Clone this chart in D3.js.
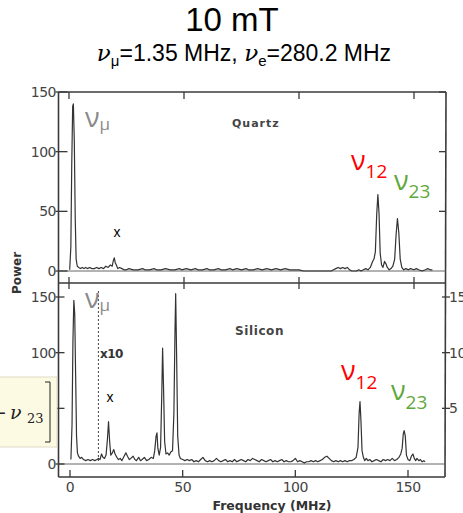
<!DOCTYPE html>
<html><head><meta charset="utf-8">
<script src="https://cdn.jsdelivr.net/npm/d3@7"></script>
<style>
html,body{margin:0;padding:0;background:#fff;}
svg{display:block;}
</style></head>
<body>
<svg id="chart" width="463" height="513"></svg>
<script>
// ---------------- DATA ----------------
const title = "10 mT";
const xTicks = [0, 50, 100, 150];
const yTicksLeft = [0, 50, 100, 150];
const yTicksRight = [5, 10, 15];
const panelNames = ["Quartz", "Silicon"];

const quartzFreq = [0.3,0.8,1.2,1.6,1.9,2.3,2.7,3.1,3.6,4.2,5,5.8,6.5,7.3,8,9,10,11,12,13,14,15,16,17,18,18.8,19.3,19.7,20.1,20.6,21.2,22,23,24,25,26,28,30,32,33,35,37,38,40,42,44,46,48,49,51,53,55,56,58,60,61,63,65,66,68,70,71,73,75,77,78,80,82,84,86,88,90,92,94,96,98,100,102,104,106,108,110,112,114,115,116,117,118,119,120,121,122,123,125,126,127,128,129,130,131,132,132.6,133.2,133.8,134.3,134.8,135.3,135.9,136.5,137.2,137.8,138.4,139.2,140,140.8,141.6,142.2,142.8,143.4,144,144.7,145.5,146.5,147.5,148.5,150,151,152,153.5,155,156,157,158];
const quartzPower = [1,20,90,138,140,110,45,10,4,3,2,3,2,3,2,3,2,2,3,2,3,2,4,3,5,4,9,11,7,5,2,3,2,1,1,2,1,1,2,1,1,2,1,1,2,1,1,2,1,2,1,2,1,1,2,1,1,2,1,1,2,1,2,1,2,1,1,2,1,2,1,2,1,2,1,1,1,0,0,0,0,0,0,0,1,2,3,2,3,2,3,1,0,0,1,0,1,2,1,3,8,10,16,48,64,48,15,5,3,8,6,3,1,2,4,10,30,44,32,10,3,1,2,1,2,1,2,1,0,1,2,1,1];

const siliconFreq = [0.4,0.9,1.3,1.7,2.1,2.5,2.9,3.3,3.8,4.5,5.2,6,7,8,9,10,11,12,12.6,13.3,14,14.6,15.3,16,16.6,17.1,17.6,18.1,18.8,19.4,20,20.8,21.5,22.3,23,24,24.8,25.5,26.3,27,28,28.8,29.5,30.5,31.3,32,33,34,35,36,37,37.6,38.2,38.6,39,39.6,40.2,40.7,41.1,41.5,42,42.6,43.3,44,44.8,45.5,46.1,46.6,46.9,47.3,47.8,48.4,49,50,51,52,53,54,55,56,57,58,59,60,61,62,63,64,65,66,67,68,69,70,71,72,73,74,75,76,77,78,79,80,81,82,83,84,85,86,87,88,89,90,91,92,93,94,95,96,97,98,99,100,101,102,103,104,105,106,107,108,109,110,111,112,113,114,115,116,117,118,119,120,121,122,123,124,125,126,127,127.8,128.3,128.7,129.1,129.6,130.2,130.8,131.5,132.2,133,134,135,136,137,138,139,140,141,142,143,144,145,146,146.8,147.4,147.9,148.3,148.8,149.3,150,150.8,151.5,152.2,152.8,153.4,154,154.8,155.5,156.3,157,157.6];
const siliconPower = [4,35,110,147,135,80,25,10,7,5,6,4,3,4,3,4,3,4,5,4,9,6,5,8,22,38,20,8,10,13,9,6,4,5,3,7,10,7,4,5,7,4,3,6,3,4,6,3,4,6,5,12,25,28,14,8,15,60,104,70,20,9,10,8,11,12,45,120,153,100,25,8,5,4,3,4,3,4,2,3,2,4,6,3,2,3,2,3,5,3,2,3,4,2,3,2,4,2,3,4,3,2,4,3,5,4,3,2,4,3,2,3,4,2,3,2,3,4,2,3,2,2,3,5,2,3,2,1,2,2,3,2,3,2,3,4,6,7,5,3,2,3,2,3,2,3,2,3,3,4,6,15,45,56,40,12,6,3,5,3,4,2,3,4,3,2,4,3,4,3,5,3,4,6,9,14,27,30,25,8,4,3,7,9,5,3,5,3,4,2,3,2];

const x10Freq = 12.6;

// ---------------- LAYOUT ----------------
const svg = d3.select("#chart");
const ink = "#3a3a3a";
const lblFont = "'DejaVu Sans', sans-serif";

const xTop = d3.scaleLinear().domain([0,150]).range([69,414]);
const xBot = d3.scaleLinear().domain([0,150]).range([70,408]);
const yTop = d3.scaleLinear().domain([0,150]).range([271,92]);
const yBot = d3.scaleLinear().domain([0,150]).range([464,297]);
const yBotR = d3.scaleLinear().domain([0,15]).range([464,297]);

// Title
svg.append("text").attr("x",232).attr("y",31).attr("text-anchor","middle")
  .attr("font-family","'Liberation Sans', Arial, sans-serif").attr("font-size",33).attr("fill","#000").text(title);
const sub = svg.append("text").attr("x",244).attr("y",61).attr("text-anchor","middle")
  .attr("font-family","'Liberation Sans', Arial, sans-serif").attr("font-size",23).attr("fill","#000");
sub.append("tspan").attr("font-family","'DejaVu Serif', serif").attr("font-style","italic").text("ν");
sub.append("tspan").attr("font-size",15).attr("dy",5).text("μ");
sub.append("tspan").attr("dy",-5).text("=1.35 MHz, ");
sub.append("tspan").attr("font-family","'DejaVu Serif', serif").attr("font-style","italic").text("ν");
sub.append("tspan").attr("font-size",15).attr("dy",5).text("e");
sub.append("tspan").attr("dy",-5).text("=280.2 MHz");

// Frame
const fL = 58.5, fRt = 446, fRb = 445, fT = 92, fDiv = 283, fB = 477;
const frame = svg.append("g").attr("stroke",ink).attr("stroke-width",1.6).attr("fill","none");
frame.append("line").attr("x1",fL).attr("x2",fRt).attr("y1",fT).attr("y2",fT);
frame.append("line").attr("x1",fL).attr("x2",fRb).attr("y1",fDiv).attr("y2",fDiv);
frame.append("line").attr("x1",fL).attr("x2",fRb).attr("y1",fB).attr("y2",fB);
frame.append("line").attr("x1",fL).attr("x2",fL).attr("y1",fT).attr("y2",fB);
frame.append("line").attr("x1",fRt).attr("x2",fRb).attr("y1",fT).attr("y2",fB);

// zero baselines
svg.append("line").attr("x1",fL).attr("x2",fRt).attr("y1",yTop(0)).attr("y2",yTop(0)).attr("stroke","#555").attr("stroke-width",0.9);
svg.append("line").attr("x1",fL).attr("x2",fRb).attr("y1",yBot(0)).attr("y2",yBot(0)).attr("stroke","#555").attr("stroke-width",0.9);

// ticks
const tk = svg.append("g").attr("stroke",ink).attr("stroke-width",1.3);
xTicks.forEach(v=>{
  tk.append("line").attr("x1",xTop(v)).attr("x2",xTop(v)).attr("y1",fT).attr("y2",fT+7);
  tk.append("line").attr("x1",xTop(v)).attr("x2",xTop(v)).attr("y1",fDiv-6).attr("y2",fDiv+6);
  tk.append("line").attr("x1",xBot(v)).attr("x2",xBot(v)).attr("y1",fB-7).attr("y2",fB);
});
yTicksLeft.forEach(v=>{
  tk.append("line").attr("x1",fL-3).attr("x2",fL+9).attr("y1",yTop(v)).attr("y2",yTop(v));
  tk.append("line").attr("x1",fL-3).attr("x2",fL+6).attr("y1",yBot(v)).attr("y2",yBot(v));
  if (v>0) tk.append("line").attr("x1",fRt-7).attr("x2",fRt).attr("y1",yTop(v)).attr("y2",yTop(v));
});
yTicksRight.forEach(v=>{
  tk.append("line").attr("x1",fRb-3).attr("x2",fRb+5).attr("y1",yBotR(v)).attr("y2",yBotR(v));
});

// tick labels
const tl = svg.append("g").attr("font-family",lblFont).attr("font-size",14).attr("fill","#444").attr("letter-spacing",-0.5);
yTicksLeft.forEach(v=>{
  tl.append("text").attr("x",56).attr("y",yTop(v)).attr("dy","0.36em").attr("text-anchor","end").text(v);
  tl.append("text").attr("x",56).attr("y",yBot(v)).attr("dy","0.36em").attr("text-anchor","end").text(v);
});
yTicksRight.forEach(v=>{
  tl.append("text").attr("x",fRb+4).attr("y",yBotR(v)).attr("dy","0.36em").attr("text-anchor","start").text(v);
});
xTicks.forEach(v=>{
  tl.append("text").attr("x",xBot(v)).attr("y",492).attr("text-anchor","middle").text(v);
});

// axis titles
svg.append("text").attr("transform","translate(21,273) rotate(-90)").attr("text-anchor","middle")
  .attr("font-family",lblFont).attr("font-weight","bold").attr("font-size",12).attr("fill","#333").text("Power");
svg.append("text").attr("x",272).attr("y",510).attr("text-anchor","middle")
  .attr("font-family",lblFont).attr("font-weight","bold").attr("font-size",12.5).attr("fill","#333").text("Frequency (MHz)");

// panel names
svg.append("text").attr("x",232).attr("y",127).attr("font-family",lblFont).attr("font-weight","bold")
  .attr("font-size",11).attr("letter-spacing",1).attr("fill","#444").text(panelNames[0]);
svg.append("text").attr("x",235).attr("y",335).attr("font-family",lblFont).attr("font-weight","bold")
  .attr("font-size",12).attr("letter-spacing",0.6).attr("fill","#444").text(panelNames[1]);

// traces
const lineTop = d3.line().x((d,i)=>xTop(quartzFreq[i])).y(d=>yTop(d));
const lineBot = d3.line().x((d,i)=>xBot(siliconFreq[i])).y(d=>yBot(d));
svg.append("path").attr("d",lineTop(quartzPower)).attr("fill","none").attr("stroke","#333").attr("stroke-width",1.2).attr("stroke-linejoin","round");
svg.append("path").attr("d",lineBot(siliconPower)).attr("fill","none").attr("stroke","#333").attr("stroke-width",1.2).attr("stroke-linejoin","round");

// x10 dotted line
svg.append("line").attr("x1",xBot(x10Freq)).attr("x2",xBot(x10Freq)).attr("y1",fDiv+8).attr("y2",yBot(0)-2)
  .attr("stroke","#444").attr("stroke-width",1).attr("stroke-dasharray","2,2");
svg.append("text").attr("x",100).attr("y",358).attr("font-family",lblFont).attr("font-weight","bold")
  .attr("font-size",12).attr("fill","#333").attr("letter-spacing",-0.5).text("x10");

// yellow box
svg.append("rect").attr("x",-2).attr("y",377).attr("width",59).attr("height",70)
  .attr("fill","#fdfae4").attr("stroke","#d6d2b8").attr("stroke-width",0.8);
svg.append("path").attr("d","M45,382 H50 V442 H45").attr("fill","none").attr("stroke","#222").attr("stroke-width",1);
const serif = "'DejaVu Serif', serif";
svg.append("text").attr("x",-9).attr("y",419).attr("font-family",serif).attr("font-size",19).attr("fill","#222").text("−");
svg.append("text").attr("x",10).attr("y",419).attr("font-family",serif).attr("font-style","italic").attr("font-size",19).attr("fill","#222").text("ν");
svg.append("text").attr("x",27).attr("y",423).attr("font-family",serif).attr("font-size",13).attr("fill","#222").text("23");

// peak labels
const grk = "'Open Sans', sans-serif";
function peakLabel(x, y, main, subT, color, mainSize, subSize, dy){
  const t = svg.append("text").attr("x",x).attr("y",y).attr("font-family",grk).attr("fill",color);
  t.append("tspan").attr("font-size",mainSize).text(main);
  t.append("tspan").attr("font-size",subSize).attr("dy",dy).text(subT);
}
peakLabel(85,127,"ν","μ","#8a8a8a",27,17,3);
peakLabel(85,308,"ν","μ","#8a8a8a",27,17,3);
peakLabel(351,170,"ν","12","#ff0000",27,19,8);
peakLabel(394,190,"ν","23","#5fa83a",27,19,8);
peakLabel(341,380,"ν","12","#ff0000",27,19,9);
peakLabel(391,400,"ν","23","#5fa83a",27,19,9);

// x markers
svg.append("text").attr("x",117).attr("y",237).attr("text-anchor","middle").attr("font-family","'Liberation Sans', Arial, sans-serif").attr("font-size",14).attr("fill","#000").text("x");
svg.append("text").attr("x",110).attr("y",402).attr("text-anchor","middle").attr("font-family","'Liberation Sans', Arial, sans-serif").attr("font-size",14).attr("fill","#000").text("x");
</script>
</body></html>
